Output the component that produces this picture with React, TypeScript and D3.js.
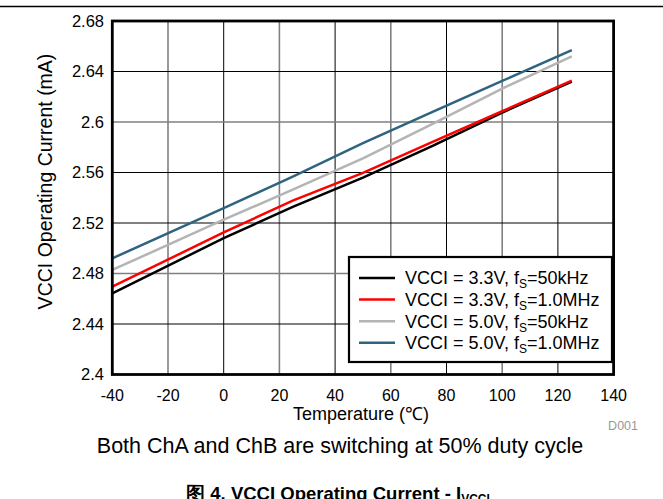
import React from "react";
import * as d3 from "d3";

const temps = [-40, 0, 25, 50, 75, 100, 125];
const black33_50k = [2.4643, 2.508, 2.533, 2.556, 2.581, 2.6075, 2.632];
const red33_1M = [2.4696, 2.5125, 2.538, 2.5597, 2.5843, 2.6085, 2.6327];
const gray50_50k = [2.4828, 2.5226, 2.5466, 2.5712, 2.5985, 2.6265, 2.652];
const blue50_1M = [2.492, 2.5318, 2.557, 2.5832, 2.608, 2.6325, 2.657];

const xTicks = [-40, -20, 0, 20, 40, 60, 80, 100, 120, 140];
const yTicks = [2.4, 2.44, 2.48, 2.52, 2.56, 2.6, 2.64, 2.68];
const yTickLabels = ["2.4", "2.44", "2.48", "2.52", "2.56", "2.6", "2.64", "2.68"];

const seriesNames = [
  ["VCCI = 3.3V, f", "S", "=50kHz"],
  ["VCCI = 3.3V, f", "S", "=1.0MHz"],
  ["VCCI = 5.0V, f", "S", "=50kHz"],
  ["VCCI = 5.0V, f", "S", "=1.0MHz"],
];
const seriesColors = ["#000000", "#ff0000", "#b4b4b4", "#2f6480"];
const seriesValues = [black33_50k, red33_1M, gray50_50k, blue50_1M];

const W = 663;
const H = 499;
const X0 = 112.3, X1 = 613.6, Y0 = 374.5, Y1 = 21;
const FONT = "'Liberation Sans', Arial, sans-serif";

export default function App() {
  const x = d3.scaleLinear().domain([-40, 140]).range([X0, X1]);
  const y = d3.scaleLinear().domain([2.4, 2.68]).range([Y0, Y1]);
  const line = d3
    .line<[number, number]>()
    .x((d) => x(d[0]))
    .y((d) => y(d[1]));

  const gridDarkX = new Set([0, 40, 80, 120]);
  const gridDarkY = new Set([2.44, 2.52, 2.56, 2.64]);

  return (
    <svg
      width={W}
      height={H}
      style={{ position: "absolute", left: 0, top: 0, background: "#fff" }}
      fontFamily={FONT}
    >
      <rect x={0} y={0} width={W} height={H} fill="#fff" />
      <line x1={0} x2={W} y1={6.5} y2={6.5} stroke="#000" strokeWidth={1.5} />

      {/* grid */}
      {xTicks.slice(1, -1).map((t) => (
        <line
          key={"gx" + t}
          x1={x(t)}
          x2={x(t)}
          y1={Y1}
          y2={Y0}
          stroke={gridDarkX.has(t) ? "#000" : "#808080"}
          strokeWidth={gridDarkX.has(t) ? 1 : 1.6}
        />
      ))}
      {yTicks.slice(1, -1).map((t) => (
        <line
          key={"gy" + t}
          x1={X0}
          x2={X1}
          y1={y(t)}
          y2={y(t)}
          stroke={gridDarkY.has(t) ? "#000" : "#808080"}
          strokeWidth={gridDarkY.has(t) ? 1 : 1.6}
        />
      ))}

      {/* series */}
      {seriesValues.map((vals, i) => (
        <path
          key={"s" + i}
          d={line(temps.map((t, j) => [t, vals[j]] as [number, number])) || ""}
          fill="none"
          stroke={seriesColors[i]}
          strokeWidth={2.5}
        />
      ))}

      {/* frame */}
      <rect
        x={X0}
        y={Y1}
        width={X1 - X0}
        height={Y0 - Y1}
        fill="none"
        stroke="#000"
        strokeWidth={2.8}
      />

      {/* y tick labels */}
      {yTicks.map((t, i) => (
        <text
          key={"yl" + t}
          x={104}
          y={y(t)}
          dy="0.35em"
          textAnchor="end"
          fontSize={16.5}
          fill="#000"
        >
          {yTickLabels[i]}
        </text>
      ))}
      {/* x tick labels */}
      {xTicks.map((t) => (
        <text
          key={"xl" + t}
          x={x(t)}
          y={401}
          textAnchor="middle"
          fontSize={16}
          fill="#000"
        >
          {t}
        </text>
      ))}

      <text
        transform={`translate(52,181.5) rotate(-90)`}
        textAnchor="middle"
        fontSize={19.5}
        fill="#000"
      >
        VCCI Operating Current (mA)
      </text>
      <text x={361} y={420} textAnchor="middle" fontSize={18} fill="#000">
        Temperature (℃)
      </text>
      <text x={638} y={430} textAnchor="end" fontSize={12.5} fill="#999">
        D001
      </text>
      <text x={340} y={453} textAnchor="middle" fontSize={21.5} fill="#000">
        Both ChA and ChB are switching at 50% duty cycle
      </text>
      <text x={338} y={500} textAnchor="middle" fontSize={18.5} fontWeight="bold" fill="#000">
        图 4. VCCI Operating Current - I
        <tspan fontSize={12} dy={3}>VCCI</tspan>
      </text>

      {/* legend */}
      <rect x={349} y={257} width={263} height={105} fill="#fff" stroke="#000" strokeWidth={2.2} />
      {seriesNames.map((nm, i) => {
        const cy = 278 + i * 21.6;
        return (
          <g key={"lg" + i}>
            <line x1={359} x2={395} y1={cy} y2={cy} stroke={seriesColors[i]} strokeWidth={2.5} />
            <text x={405} y={cy} dy="0.35em" fontSize={18} fill="#000">
              {nm[0]}
              <tspan fontSize={12} dy={4}>{nm[1]}</tspan>
              <tspan dy={-4}>{nm[2]}</tspan>
            </text>
          </g>
        );
      })}
    </svg>
  );
}
